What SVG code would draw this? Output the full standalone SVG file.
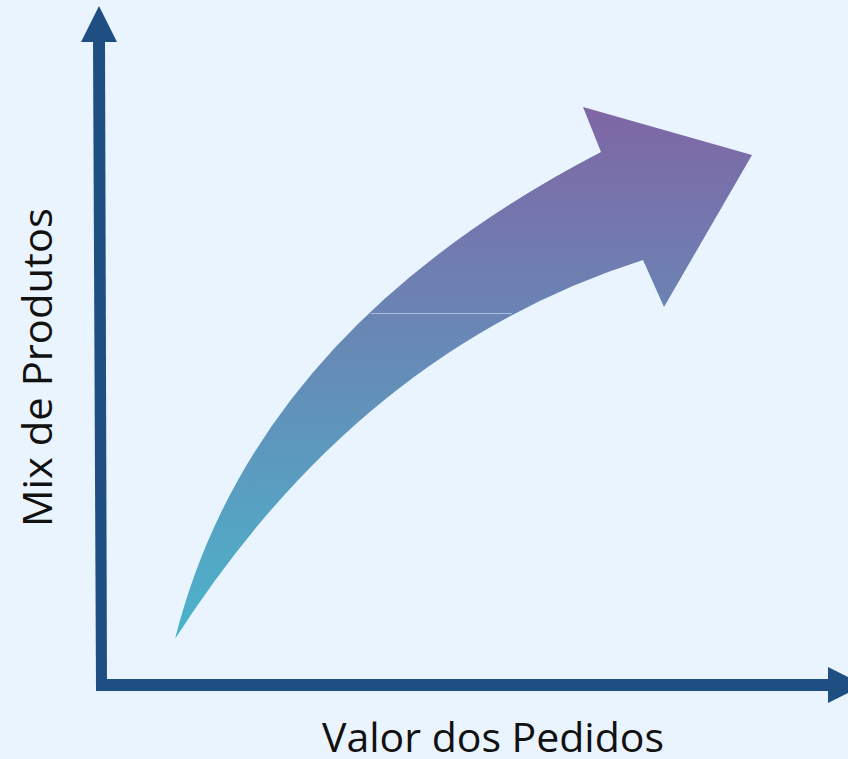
<svg xmlns="http://www.w3.org/2000/svg" width="848" height="759" viewBox="0 0 848 759">
  <style>
    .axis { fill: #1F4E82; }
    .label { font-family: "Open Sans", "Liberation Sans", sans-serif; font-size: 40px; fill: #111111; }
  </style>
  <defs>
    <linearGradient id="grad" gradientUnits="userSpaceOnUse" x1="0" y1="107" x2="0" y2="639">
      <stop offset="0" stop-color="#7F66A5"/>
      <stop offset="1" stop-color="#4AB4CB"/>
    </linearGradient>
  </defs>
  <rect x="0" y="0" width="848" height="759" fill="#EAF4FE"/>
  <g id="y-axis">
    <polygon class="axis" points="93,40 105,40 107,690 96,690"/>
    <polygon class="axis" points="81,42 99,6 117,42"/>
  </g>
  <g id="x-axis">
    <polygon class="axis" points="96,679 830,679 830,691 96,691"/>
    <polygon class="axis" points="828,667 864,685 828,703"/>
  </g>
  <g id="growth-arrow">
    <path fill="url(#grad)" d="M175,639 Q252,333 601,152 L583,107 L752,155 L664,307 L643,260 Q360,350 175,639 Z"/>
    <line x1="371" y1="313.5" x2="512" y2="313.5" stroke="#A9BCDC" stroke-width="1"/>
  </g>
  <g id="labels">
    <text class="label" transform="translate(52,367.5) rotate(-90)" text-anchor="middle" textLength="319" lengthAdjust="spacingAndGlyphs">Mix de Produtos</text>
    <text class="label" x="493" y="752" text-anchor="middle" textLength="342" lengthAdjust="spacingAndGlyphs">Valor dos Pedidos</text>
  </g>
</svg>
